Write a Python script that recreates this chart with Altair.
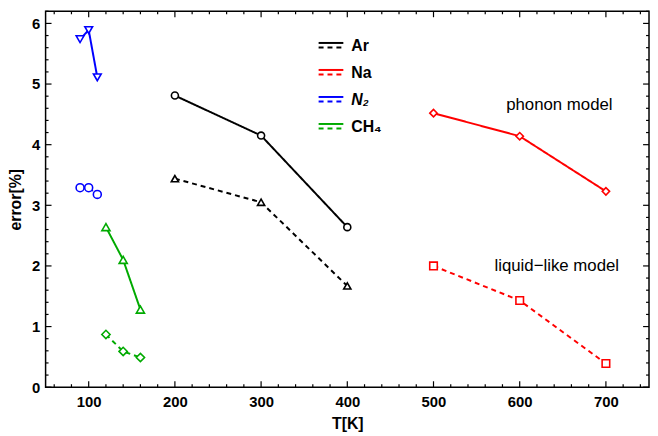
import altair as alt
import pandas as pd

# ---------------- data ----------------
T_AR = [200, 300, 400]
AR_PHONON = [4.81, 4.15, 2.64]
AR_LIQUID = [3.44, 3.05, 1.67]

T_NA = [500, 600, 700]
NA_PHONON = [4.52, 4.14, 3.23]
NA_LIQUID = [2.00, 1.43, 0.39]

T_N2 = [90, 100, 110]
N2_PHONON = [5.74, 5.89, 5.11]
N2_LIQUID = [3.29, 3.29, 3.18]

T_CH4 = [120, 140, 160]
CH4_PHONON = [2.64, 2.10, 1.28]
CH4_LIQUID = [0.87, 0.59, 0.49]

SERIES = ["Ar", "Na", "N2", "CH4"]
SERIES_LABELS = ["Ar", "Na", "N\u2082", "CH\u2084"]
COLORS = ["#000000", "#ff0000", "#0000ff", "#00aa00"]

X_MAJOR = [100, 200, 300, 400, 500, 600, 700]
Y_MAJOR = [0, 1, 2, 3, 4, 5, 6]
X_MINOR = [v for v in range(60, 750, 20) if v % 100 != 0]
Y_MINOR = [round(i * 0.2, 1) for i in range(32) if i % 5 != 0]

ANNOT_TEXT = ["phonon model", "liquid\u2212like model"]
ANNOT_T = [646, 643]
ANNOT_ERR = [4.65, 2.0]

W, H = 610, 380
XMIN, XMAX = 50, 750
YMIN, YMAX = 0, 6.2
MAJOR_LEN, MINOR_LEN = 6, 3


def dx(px):  # pixel length -> data length along x
    return px * (XMAX - XMIN) / W


def dy(px):  # pixel length -> data length along y
    return px * (YMAX - YMIN) / H


rows = []
for s, t, ph, lq in [("Ar", T_AR, AR_PHONON, AR_LIQUID),
                     ("Na", T_NA, NA_PHONON, NA_LIQUID),
                     ("N2", T_N2, N2_PHONON, N2_LIQUID),
                     ("CH4", T_CH4, CH4_PHONON, CH4_LIQUID)]:
    for ti, v in zip(t, ph):
        rows.append({"T": ti, "err": v, "series": s, "model": "phonon", "key": s + "|phonon"})
    for ti, v in zip(t, lq):
        rows.append({"T": ti, "err": v, "series": s, "model": "liquid", "key": s + "|liquid"})
df = pd.DataFrame(rows)

KEYS = ["Ar|phonon", "Ar|liquid", "Na|phonon", "Na|liquid",
        "N2|phonon", "N2|liquid", "CH4|phonon", "CH4|liquid"]
SHAPES = ["circle", "triangle-up", "diamond", "square",
          "triangle-down", "circle", "triangle-up", "diamond"]
SIZES = [50, 70, 80, 52, 70, 50, 70, 80]

xscale = alt.Scale(domain=[XMIN, XMAX], nice=False, zero=False)
yscale = alt.Scale(domain=[YMIN, YMAX], nice=False, zero=False)
xaxis = alt.Axis(values=X_MAJOR, ticks=False, domain=False, grid=False, format="d",
                 title="T[K]", labelPadding=8, titlePadding=6)
yaxis = alt.Axis(values=Y_MAJOR, ticks=False, domain=False, grid=False, format="d",
                 title="error[%]", labelPadding=6, titlePadding=8)
X = lambda f: alt.X(f, scale=xscale, axis=xaxis, title="T[K]")
Y = lambda f: alt.Y(f, scale=yscale, axis=yaxis, title="error[%]")
color = alt.Color("series:N", scale=alt.Scale(domain=SERIES, range=COLORS), legend=None)

base = alt.Chart(df)

lines = base.mark_line(strokeWidth=2).encode(
    x=X("T:Q"), y=Y("err:Q"),
    color=color,
    strokeDash=alt.StrokeDash("model:N", scale=alt.Scale(domain=["phonon", "liquid"],
                                                         range=[[1, 0], [5, 4]]), legend=None),
    detail="key:N",
    order="T:Q",
)

points = base.mark_point(filled=False, fill="white", fillOpacity=1, strokeWidth=1.6, opacity=1).encode(
    x=X("T:Q"), y=Y("err:Q"),
    color=color,
    shape=alt.Shape("key:N", scale=alt.Scale(domain=KEYS, range=SHAPES), legend=None),
    size=alt.Size("key:N", scale=alt.Scale(domain=KEYS, range=SIZES), legend=None),
)

annot = alt.Chart(pd.DataFrame({"text": ANNOT_TEXT, "T": ANNOT_T, "err": ANNOT_ERR})).mark_text(
    font="Liberation Sans", fontSize=17, color="black", align="center", baseline="middle"
).encode(x=X("T:Q"), y=Y("err:Q"), text="text:N")

# ---------------- inward ticks on all four sides (rules in data units) ----------------
xt_rows = []
for v in X_MAJOR + X_MINOR:
    ln = MAJOR_LEN if v in X_MAJOR else MINOR_LEN
    xt_rows.append({"T": v, "a": YMIN, "b": YMIN + dy(ln)})
    xt_rows.append({"T": v, "a": YMAX, "b": YMAX - dy(ln)})
yt_rows = []
for v in Y_MAJOR + Y_MINOR:
    ln = MAJOR_LEN if v in Y_MAJOR else MINOR_LEN
    yt_rows.append({"err": v, "a": XMIN, "b": XMIN + dx(ln)})
    yt_rows.append({"err": v, "a": XMAX, "b": XMAX - dx(ln)})

ticks_x = alt.Chart(pd.DataFrame(xt_rows)).mark_rule(color="black", strokeWidth=1.2).encode(
    x=X("T:Q"), y=Y("a:Q"), y2="b:Q")
ticks_y = alt.Chart(pd.DataFrame(yt_rows)).mark_rule(color="black", strokeWidth=1.2).encode(
    y=Y("err:Q"), x=X("a:Q"), x2="b:Q")

# ---------------- custom legend (solid over dashed line symbol) ----------------
LEG_X0, LEG_X1, LEG_TX = 276, 301, 309   # pixel offsets within the plot area
leg_rows = []
for i, (s, lab) in enumerate(zip(SERIES, SERIES_LABELS)):
    y0 = 32 + 27.3 * i
    leg_rows.append({
        "series": s, "label": lab,
        "xa": XMIN + dx(LEG_X0), "xb": XMIN + dx(LEG_X1), "xt": XMIN + dx(LEG_TX),
        "ys": YMAX - dy(y0), "yd": YMAX - dy(y0 + 4.5), "yt": YMAX - dy(y0 + 3),
    })
leg = alt.Chart(pd.DataFrame(leg_rows))
leg_solid = leg.mark_rule(strokeWidth=2).encode(x=X("xa:Q"), x2="xb:Q", y=Y("ys:Q"), color=color)
leg_dash = leg.mark_rule(strokeWidth=2, strokeDash=[5, 4]).encode(
    x=X("xa:Q"), x2="xb:Q", y=Y("yd:Q"), color=color)
leg_text = leg.transform_filter("datum.series != 'N2'").mark_text(
    font="Liberation Sans", fontSize=16, fontWeight="bold", align="left", baseline="middle", color="black"
).encode(x=X("xt:Q"), y=Y("yt:Q"), text="label:N")
leg_text_n2 = leg.transform_filter("datum.series == 'N2'").mark_text(
    font="Liberation Sans", fontSize=16, fontWeight="bold", fontStyle="italic",
    align="left", baseline="middle", color="black"
).encode(x=X("xt:Q"), y=Y("yt:Q"), text="label:N")

chart = alt.layer(
    ticks_x, ticks_y, lines, points, annot, leg_solid, leg_dash, leg_text, leg_text_n2
).properties(
    width=W, height=H,
    autosize=alt.AutoSizeParams(type="none"),
    padding={"left": 38, "top": 1, "right": 1, "bottom": 46},
).configure_view(
    stroke="black", strokeWidth=1.5
).configure_axis(
    labelFont="Liberation Sans", labelFontSize=15, labelFontWeight="bold", labelColor="black",
    titleFont="Liberation Sans", titleFontSize=16, titleFontWeight="bold", titleColor="black",
)

chart.save("out.html", embed_options={"renderer": "svg", "actions": False})
